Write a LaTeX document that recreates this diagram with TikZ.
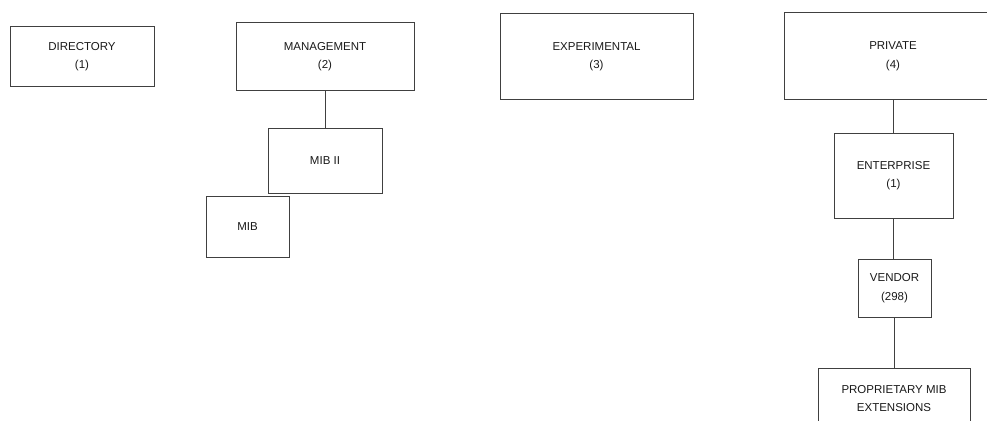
\documentclass[tikz,border=0pt]{standalone}
\usepackage{fontspec}
\setmainfont{Liberation Sans}
\begin{document}
\begin{tikzpicture}[x=1pt,y=-1pt,
  box/.style={draw=black!75, line width=1pt, rectangle, inner sep=0pt, align=center,
    text=black!90, font=\fontsize{11.5}{18.5}\selectfont},
  link/.style={draw=black!75, line width=1pt}]
\useasboundingbox (0,0) rectangle (987,420);
\clip (0,0) rectangle (987,420);
\node[box, minimum width=144pt, minimum height=59pt] (dir) at (82,56.5) {DIRECTORY\\(1)};
\node[box, minimum width=178pt, minimum height=67pt] (mgmt) at (325,56.5) {MANAGEMENT\\(2)};
\node[box, minimum width=114pt, minimum height=65pt] (mib2) at (325,160.5) {MIB II};
\node[box, minimum width=83pt, minimum height=61pt] (mib) at (247.5,226.5) {MIB};
\node[box, minimum width=193pt, minimum height=85pt] (exp) at (596.5,56.5) {EXPERIMENTAL\\(3)};
\node[box, minimum width=218pt, minimum height=86pt] (priv) at (893,56) {PRIVATE\\(4)};
\node[box, minimum width=119pt, minimum height=85pt] (ent) at (893.5,175.5) {ENTERPRISE\\(1)};
\node[box, minimum width=73pt, minimum height=58pt] (vend) at (894.5,288) {VENDOR\\(298)};
\node[box, minimum width=152pt, minimum height=61pt] (prop) at (894,398.5) {PROPRIETARY MIB\\EXTENSIONS};
\draw[link] (mgmt.south) -- (mib2.north);
\draw[link] (priv.south) -- (priv.south |- ent.north);
\draw[link] (ent.south) -- (ent.south |- vend.north);
\draw[link] (vend.south) -- (vend.south |- prop.north);
\end{tikzpicture}
\end{document}
